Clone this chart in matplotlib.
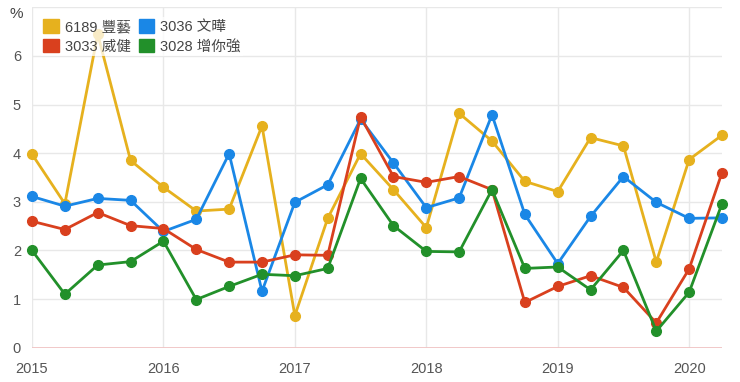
import matplotlib.pyplot as plt
import matplotlib.patches as mpatches
import numpy as np

plt.rcParams['font.family'] = ['Liberation Sans', 'Noto Sans CJK TC', 'DejaVu Sans']

# 季度 (2015Q1 ~ 2020Q2)
quarters = np.arange(22) / 4 + 2015

names = ['6189 豐藝', '3036 文曄', '3033 威健', '3028 增你強']
colors = ['#e6b11e', '#1a87e6', '#d9401e', '#22902a']

fengyi = [3.98, 2.96, 6.45, 3.85, 3.30, 2.81, 2.85, 4.56, 0.66, 2.66, 3.99,
          3.25, 2.47, 4.82, 4.25, 3.42, 3.21, 4.32, 4.15, 1.76, 3.87, 4.37]
wenye = [3.11, 2.91, 3.07, 3.03, 2.39, 2.64, 3.99, 1.16, 2.99, 3.35, 4.70,
         3.80, 2.88, 3.08, 4.79, 2.74, 1.73, 2.70, 3.52, 2.99, 2.66, 2.67]
weijian = [2.60, 2.43, 2.78, 2.51, 2.45, 2.02, 1.76, 1.76, 1.91, 1.90, 4.75,
           3.52, 3.40, 3.52, 3.25, 0.93, 1.26, 1.48, 1.24, 0.51, 1.62, 3.60]
zengniqiang = [2.00, 1.10, 1.70, 1.77, 2.19, 0.99, 1.26, 1.51, 1.48, 1.63, 3.48,
               2.51, 1.98, 1.97, 3.25, 1.63, 1.66, 1.19, 2.00, 0.34, 1.14, 2.96]

series = [fengyi, wenye, weijian, zengniqiang]

fig = plt.figure(figsize=(7.4, 3.82), dpi=100)
ax = fig.add_axes([32 / 740, 1 - 347.7 / 382, 690 / 740, 340.4 / 382])

for vals, c in zip(series, colors):
    ax.plot(quarters, vals, color=c, lw=2.0, marker='o', ms=7, zorder=3,
            solid_joinstyle='round', clip_on=False)

ax.set_xlim(2015, 2020.25)
ax.set_ylim(0, 7)
ax.set_xticks(range(2015, 2021))
ax.set_yticks(range(0, 8))
ax.set_yticklabels([str(i) for i in range(7)] + [''])
ax.grid(True, color='#e8e8e8', lw=1)
ax.axhline(0, color='#f0c4c4', lw=2, zorder=2)
for s in ax.spines.values():
    s.set_visible(False)
ax.tick_params(length=0, labelsize=10.5, colors='#555555', pad=10)
ax.tick_params(axis='y', pad=8)
fig.text(10 / 740, 1 - 14 / 382, '%', fontsize=11, color='#444444', va='center')

order = [0, 2, 1, 3]
handles = [mpatches.Patch(color=colors[i], label=names[i]) for i in order]
leg = fig.legend(handles=handles, loc='upper left', bbox_to_anchor=(34 / 740, 1 - 10 / 382),
                 ncol=2, frameon=True, fontsize=10.5, handlelength=1.05, handleheight=1.0,
                 handletextpad=0.4, columnspacing=0.55, labelspacing=0.35, borderpad=0.15,
                 fancybox=False, edgecolor='none', facecolor='white', framealpha=0.75)
leg.set_zorder(5)
for t in leg.get_texts():
    t.set_color('#444444')

fig.savefig('out.png', dpi=100)
